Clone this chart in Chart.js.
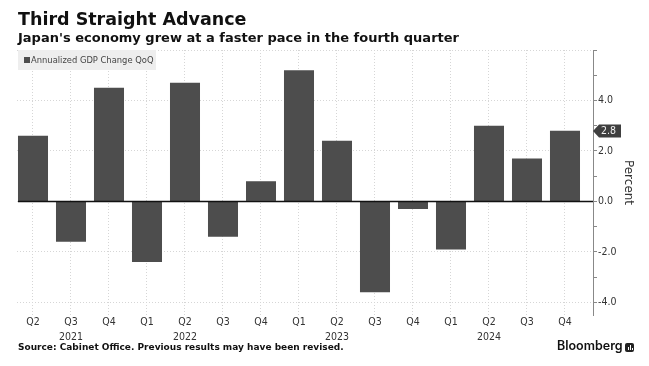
<!DOCTYPE html>
<html><head><meta charset="utf-8">
<script src="https://cdn.jsdelivr.net/npm/chart.js@4.4.1/dist/chart.umd.min.js"></script>
<style>
html,body{margin:0;padding:0;background:#fff;}
#wrap{position:relative;width:649px;height:366px;overflow:hidden;background:#fff;}
canvas{position:absolute;left:0;top:0;}
.t{position:absolute;white-space:nowrap;color:#111;}
#legend{position:absolute;left:18px;top:50px;width:138px;height:20px;background:#eeeeee;}
#legend .sw{position:absolute;left:6px;top:7px;width:6px;height:6px;background:#4d4d4d;}
#legend .lt{position:absolute;left:13px;top:0;line-height:20px;font-size:9.3px;color:#444;white-space:nowrap;font-family:'DejaVu Sans Condensed','DejaVu Sans',sans-serif;}
#logo{position:absolute;left:625px;top:343px;width:9px;height:9px;background:#222;border-radius:2px;}
#logo i{position:absolute;bottom:2px;width:1.5px;background:#fff;}
</style></head><body>
<div id="wrap">
<canvas id="c" width="649" height="366"></canvas>
<div class="t" style="left:18px;top:11px;font:bold 17.5px/17.5px 'DejaVu Sans',sans-serif;">Third Straight Advance</div>
<div class="t" style="left:18px;top:31px;font:bold 13px/13px 'DejaVu Sans',sans-serif;">Japan's economy grew at a faster pace in the fourth quarter</div>
<div id="legend"><div class="sw"></div><div class="lt">Annualized GDP Change QoQ</div></div>
<div class="t" style="left:18px;top:343px;font:bold 9px/9px 'DejaVu Sans',sans-serif;color:#111;">Source: Cabinet Office. Previous results may have been revised.</div>
<div class="t" style="left:557px;top:340px;font:600 12.5px/12.5px 'Inter','Liberation Sans',sans-serif;color:#111;">Bloomberg</div>
<div id="logo"><i style="left:2.5px;height:3px"></i><i style="left:4.5px;height:5px"></i><i style="left:6.5px;height:2px"></i></div>
</div>
<script>
const quarters = ['Q2','Q3','Q4','Q1','Q2','Q3','Q4','Q1','Q2','Q3','Q4','Q1','Q2','Q3','Q4'];
const years = ['','2021','','','2022','','','','2023','','','','2024','',''];
const gdpChange = [2.6,-1.6,4.5,-2.4,4.7,-1.4,0.8,5.2,2.4,-3.6,-0.3,-1.9,3.0,1.7,2.8];
const yTicks = [-4,-3,-2,-1,0,1,2,3,4,5,6];

const smallFont = "'DejaVu Sans Condensed','DejaVu Sans',sans-serif";

const zeroLine = {
  id:'zeroLine',
  afterDatasetsDraw(chart){
    const {ctx, chartArea:a, scales:{y}} = chart;
    const py = Math.round(y.getPixelForValue(0)) + 0.5;
    ctx.save();
    ctx.strokeStyle = '#111';
    ctx.lineWidth = 1.5;
    ctx.beginPath(); ctx.moveTo(a.left+1, py); ctx.lineTo(a.right, py); ctx.stroke();
    ctx.restore();
  }
};
const callout = {
  id:'callout',
  afterDraw(chart){
    const {ctx, scales:{y}} = chart;
    const v = gdpChange[gdpChange.length-1];
    const py = Math.round(y.getPixelForValue(v));
    const x0 = y.left;
    ctx.save();
    ctx.fillStyle = '#3f3f3f';
    ctx.beginPath();
    ctx.moveTo(x0, py);
    ctx.lineTo(x0+6, py-6.5);
    ctx.lineTo(x0+28, py-6.5);
    ctx.lineTo(x0+28, py+6.5);
    ctx.lineTo(x0+6, py+6.5);
    ctx.closePath(); ctx.fill();
    ctx.fillStyle = '#f2f2f2';
    ctx.font = "10.5px " + smallFont;
    ctx.textBaseline = 'middle';
    ctx.textAlign = 'left';
    ctx.fillText(v.toFixed(1), x0+8, py+0.5);
    ctx.restore();
  }
};

new Chart(document.getElementById('c'), {
  type:'bar',
  data:{
    datasets:[{
      label:'Annualized GDP Change QoQ',
      data: gdpChange.map((v,i)=>({x:i, y:v})),
      backgroundColor:'#4d4d4d',
      borderWidth:0,
      barPercentage:0.79,
      categoryPercentage:1
    }]
  },
  options:{
    responsive:false,
    animation:false,
    devicePixelRatio:1,
    layout:{padding:{left:17, top:50, right:0, bottom:0}},
    plugins:{legend:{display:false}, tooltip:{enabled:false}},
    scales:{
      x:{
        type:'linear', min:-0.421, max:14.737, offset:false,
        afterBuildTicks: s => { s.ticks = quarters.map((q,i)=>({value:i})); },
        afterFit: s => { s.height = 51; },
        grid:{color:'#d6d6d6', lineWidth:1, drawTicks:false, offset:false},
        border:{display:false, dash:[1,2]},
        ticks:{padding:0, color:'#333', maxRotation:0, autoSkip:false,
          font:{family:smallFont, size:10.5, lineHeight:1.4},
          callback:(v,i)=> years[i] ? [quarters[i], years[i]] : quarters[i]}
      },
      y:{
        position:'right', min:-4.5, max:6,
        afterBuildTicks: s => { s.ticks = yTicks.map(v=>({value:v})); },
        afterFit: s => { s.width = 56; },
        grid:{
          color: c => (c.tick && c.tick.value % 2 === 0) ? '#d6d6d6' : 'rgba(0,0,0,0)',
          tickColor:'#888', tickLength:4, drawTicks:true, lineWidth:1
        },
        border:{display:true, color:'#888', width:1, dash:[1,2]},
        ticks:{padding:1, color:'#333', font:{family:smallFont, size:10.5},
          callback: v => (v % 2 === 0 && Math.abs(v) <= 4) ? v.toFixed(1) : ''},
        title:{display:true, text:'Percent', color:'#333',
          font:{family:"'DejaVu Sans',sans-serif", size:12}, padding:{top:14, bottom:0}}
      }
    }
  },
  plugins:[zeroLine, callout]
});
</script>
</body></html>
